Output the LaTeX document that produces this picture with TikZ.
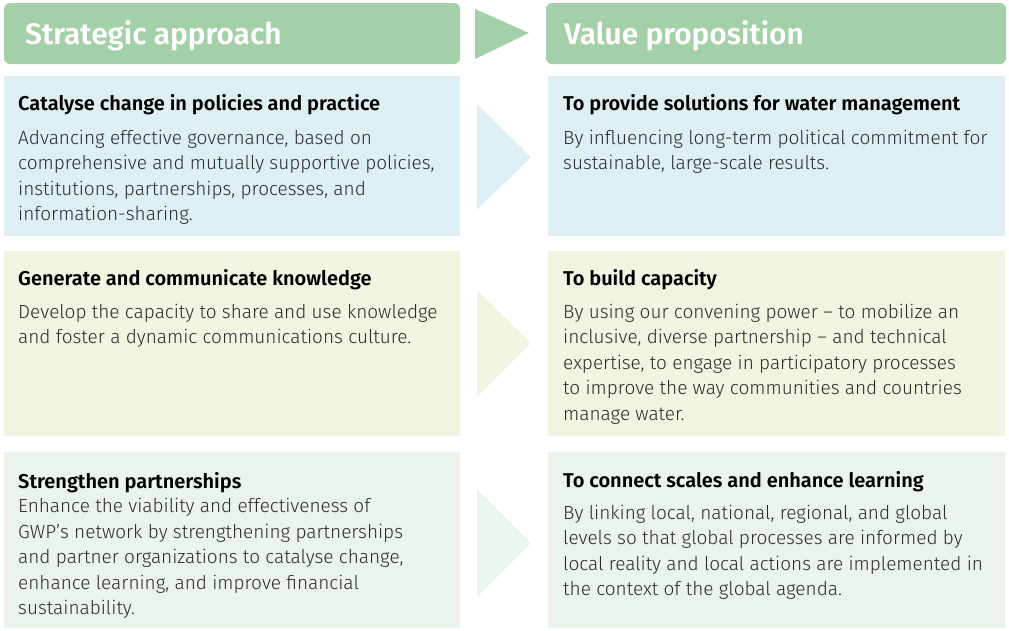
\documentclass[tikz,border=0pt]{standalone}
\usepackage{fontspec}
\setmainfont{Fira Sans}[UprightFont=* Light, BoldFont=* SemiBold]
\definecolor{hgreen}{HTML}{A3D0A9}
\definecolor{rowblue}{HTML}{DEEFF4}
\definecolor{rowcream}{HTML}{F3F3E2}
\definecolor{rowgreen}{HTML}{EAF4EA}
\definecolor{bodygray}{HTML}{2B2B2B}
\tikzset{
  hdrbox/.style={fill=hgreen, rounded corners=6pt},
  hdrtxt/.style={anchor=base west, text=white, inner sep=0pt, font=\fontsize{29.8}{32}\selectfont\bfseries},
  blocktxt/.style={anchor=base west, inner sep=0pt, text=bodygray, font=\fontsize{19}{25.5}\selectfont},
}
\newcommand{\ttlline}[1]{{\color{black}\bfseries\fontsize{20}{22}\selectfont #1}}
\begin{document}
\begin{tikzpicture}[x=1pt,y=-1pt]
\useasboundingbox (0,0) rectangle (1009,630);
% headers
\fill[hdrbox] (4,3) rectangle (460,64);
\fill[hdrbox] (546,3) rectangle (1006,64);
\fill[hgreen] (475,9) -- (529,33) -- (475,59) -- cycle;
\node[hdrtxt] (h1) at (25,44) {Strategic approach};
\node[hdrtxt] (h2) at (564,44) {Value proposition};
% row 1
\fill[rowblue] (4,76) rectangle (460,236);
\fill[rowblue] (548,76) rectangle (1005,236);
\fill[rowblue] (477,104) -- (531,157) -- (477,210) -- cycle;
\node[blocktxt] (l1) at (18,110) {\begin{tabular}[t]{@{}l@{}}
\ttlline{Catalyse change in policies and practice}\\[8.5pt]
Advancing effective governance, based on\\
comprehensive and mutually supportive policies,\\
institutions, partnerships, processes, and\\
information-sharing.
\end{tabular}};
\node[blocktxt] (r1) at (563,110) {\begin{tabular}[t]{@{}l@{}}
\ttlline{To provide solutions for water management}\\[8.5pt]
By influencing long-term political commitment for\\
sustainable, large-scale results.
\end{tabular}};
% row 2
\fill[rowcream] (4,251) rectangle (460,436);
\fill[rowcream] (548,251) rectangle (1005,436);
\fill[rowcream] (477,290) -- (531,343) -- (477,397) -- cycle;
\node[blocktxt] (l2) at (18,285) {\begin{tabular}[t]{@{}l@{}}
\ttlline{Generate and communicate knowledge}\\[7.5pt]
Develop the capacity to share and use knowledge\\
and foster a dynamic communications culture.
\end{tabular}};
\node[blocktxt] (r2) at (563,285) {\begin{tabular}[t]{@{}l@{}}
\ttlline{To build capacity}\\[7.5pt]
By using our convening power -- to mobilize an\\
inclusive, diverse partnership -- and technical\\
expertise, to engage in participatory processes\\
to improve the way communities and countries\\
manage water.
\end{tabular}};
% row 3
\fill[rowgreen] (4,452) rectangle (460,628);
\fill[rowgreen] (548,452) rectangle (1005,628);
\fill[rowgreen] (477,489) -- (531,543) -- (477,597) -- cycle;
\node[blocktxt] (l3) at (18,488) {\begin{tabular}[t]{@{}l@{}}
\ttlline{Strengthen partnerships}\\[-1pt]
Enhance the viability and effectiveness of\\
GWP’s network by strengthening partnerships\\
and partner organizations to catalyse change,\\
enhance learning, and improve financial\\
sustainability.
\end{tabular}};
\node[blocktxt] (r3) at (563,487) {\begin{tabular}[t]{@{}l@{}}
\ttlline{To connect scales and enhance learning}\\[6.5pt]
By linking local, national, regional, and global\\
levels so that global processes are informed by\\
local reality and local actions are implemented in\\
the context of the global agenda.
\end{tabular}};
\end{tikzpicture}
\end{document}
